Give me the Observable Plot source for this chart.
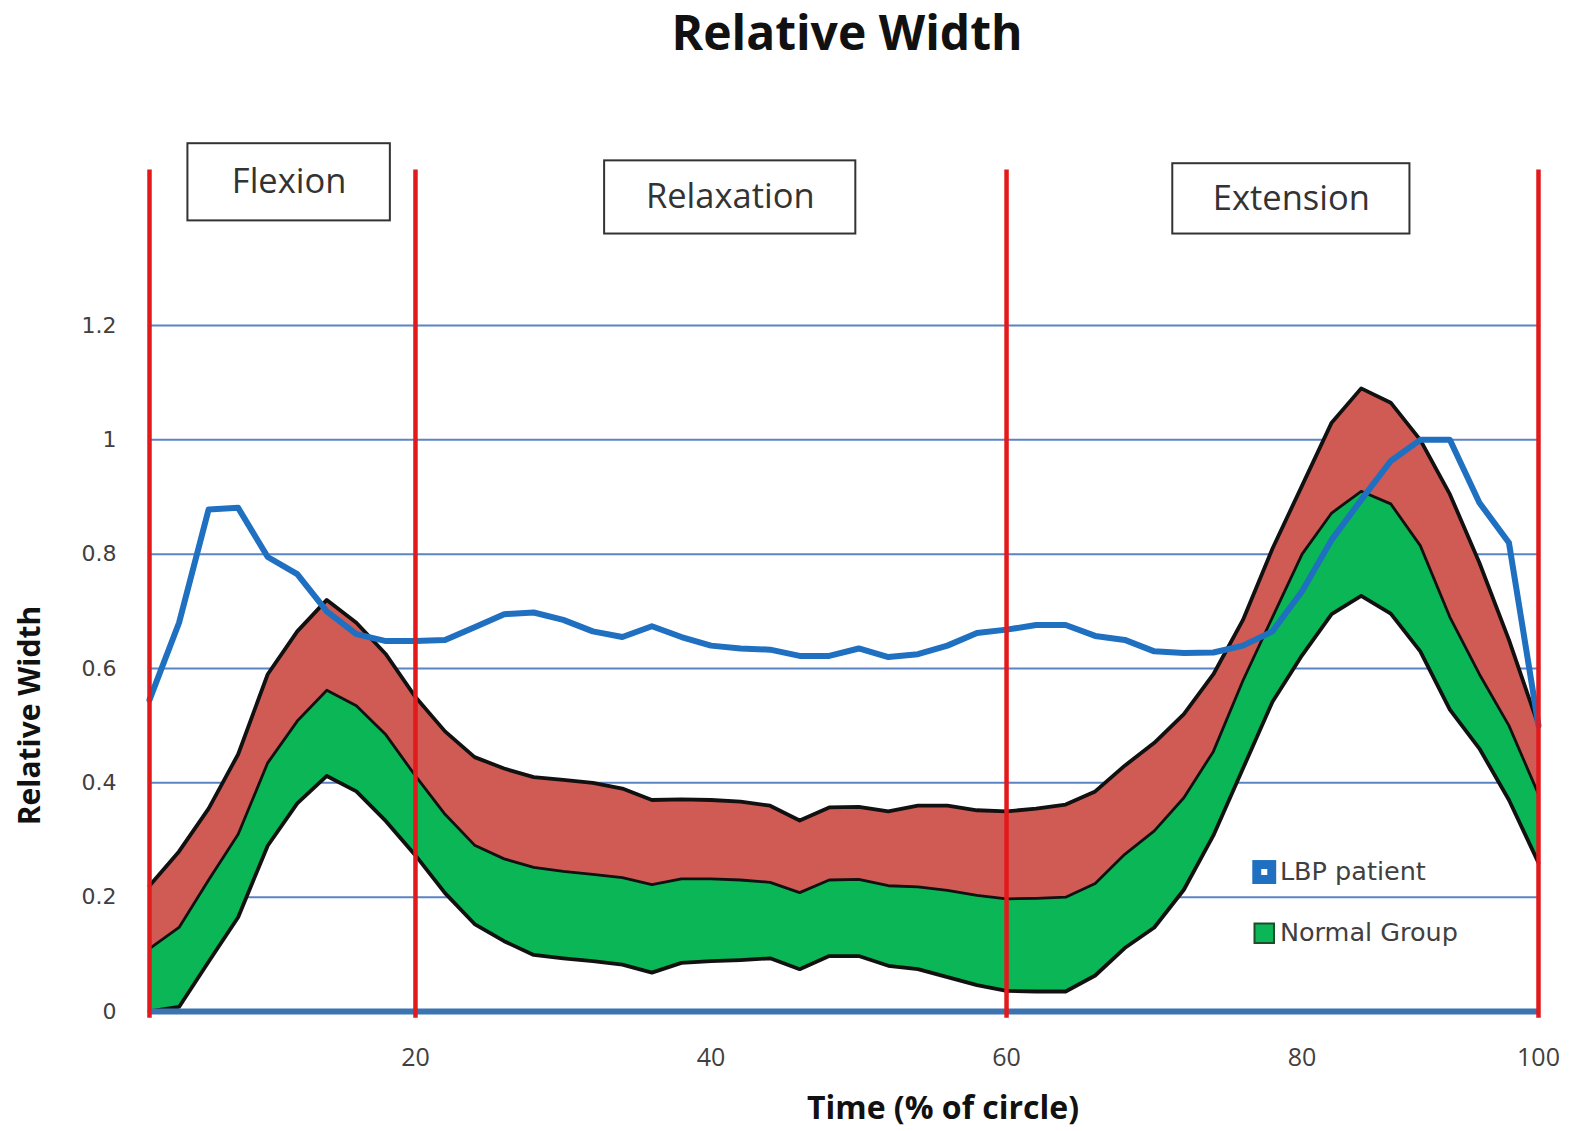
<!DOCTYPE html>
<html><head><meta charset="utf-8">
<script src="https://cdn.jsdelivr.net/npm/d3@7"></script>
<script src="https://cdn.jsdelivr.net/npm/@observablehq/plot@0.6"></script>
<style>
body{margin:0;background:#fff;}
#title{height:80px;width:1576px;box-sizing:border-box;padding-left:118px;padding-top:8px;text-align:center;font-family:"Open Sans";font-weight:bold;font-size:48px;line-height:1;color:#111;}
</style></head><body>
<div id="title">Relative Width</div>
<div id="chart"></div>
<script>
const time = [2,4,6,8,10,12,14,16,18,20,22,24,26,28,30,32,34,36,38,40,42,44,46,48,50,52,54,56,58,60,62,64,66,68,70,72,74,76,78,80,82,84,86,88,90,92,94,96];
const lowerBound = [0.0,0.008,0.087,0.165,0.29,0.364,0.412,0.385,0.333,0.273,0.207,0.153,0.123,0.099,0.093,0.088,0.082,0.068,0.085,0.088,0.09,0.093,0.074,0.097,0.097,0.08,0.074,0.06,0.046,0.036,0.035,0.035,0.063,0.111,0.147,0.213,0.308,0.425,0.542,0.623,0.695,0.727,0.696,0.63,0.528,0.46,0.37,0.26];
const meanNormal = [0.11,0.147,0.23,0.31,0.435,0.508,0.562,0.535,0.484,0.412,0.345,0.291,0.267,0.252,0.245,0.24,0.234,0.222,0.232,0.232,0.23,0.226,0.208,0.23,0.231,0.22,0.218,0.212,0.203,0.197,0.198,0.2,0.224,0.275,0.316,0.374,0.455,0.579,0.69,0.8,0.872,0.91,0.888,0.815,0.69,0.59,0.5,0.38];
const upperBound = [0.22,0.28,0.355,0.45,0.59,0.665,0.72,0.68,0.625,0.55,0.49,0.445,0.425,0.41,0.405,0.4,0.39,0.37,0.371,0.37,0.367,0.36,0.334,0.357,0.358,0.35,0.36,0.36,0.352,0.35,0.355,0.362,0.385,0.43,0.47,0.52,0.59,0.685,0.81,0.92,1.03,1.09,1.065,1.0,0.905,0.785,0.65,0.5];
const lbpPatient = [0.545,0.68,0.878,0.881,0.795,0.765,0.7,0.66,0.648,0.648,0.65,0.672,0.695,0.698,0.685,0.665,0.655,0.674,0.655,0.64,0.635,0.633,0.622,0.622,0.635,0.62,0.625,0.64,0.662,0.668,0.676,0.676,0.657,0.65,0.63,0.627,0.628,0.64,0.665,0.735,0.825,0.895,0.963,1.0,1.0,0.89,0.82,0.5];
const phaseBoundaries = [2, 20, 60, 96];
const phaseNames = ["Flexion", "Relaxation", "Extension"];
const yTicks = [0, 0.2, 0.4, 0.6, 0.8, 1, 1.2];
const xTicks = [20, 40, 60, 80, 96];
const xTickLabels = ["20", "40", "60", "80", "100"];
const legendLabels = ["LBP patient", "Normal Group"];

const rows = time.map((t, i) => ({t, lo: lowerBound[i], mid: meanNormal[i], hi: upperBound[i], lbp: lbpPatient[i]}));

// annotation box layout (data units)
const boxLayout = [
  {x1: 4.6, x2: 18.3, y1: 1.383, y2: 1.518},
  {x1: 32.8, x2: 49.8, y1: 1.36, y2: 1.488},
  {x1: 71.25, x2: 87.3, y1: 1.36, y2: 1.483}
];
const boxes = boxLayout.map((b, i) => ({...b, name: phaseNames[i]}));
const legendY = [0.244, 0.137];
const legendItems = legendLabels.map((l, i) => ({label: l, y: legendY[i]}));

const chart = Plot.plot({
  width: 1576, height: 1051,
  marginLeft: 149, marginRight: 38, marginTop: 245, marginBottom: 120,
  x: {domain: [2, 96]},
  y: {domain: [0, 1.2]},
  style: {background: "#fff", fontFamily: "Open Sans", color: "#404040"},
  marks: [
    Plot.ruleY(yTicks.filter(d => d > 0), {stroke: "#5b84c4", strokeWidth: 2}),
    Plot.areaY(rows, {x: "t", y1: "lo", y2: "mid", fill: "#0bb656"}),
    Plot.areaY(rows, {x: "t", y1: "mid", y2: "hi", fill: "#d05b55"}),
    Plot.line(rows, {x: "t", y: "lo", stroke: "#111", strokeWidth: 3.8}),
    Plot.line(rows, {x: "t", y: "mid", stroke: "#111", strokeWidth: 2.8}),
    Plot.line(rows, {x: "t", y: "hi", stroke: "#111", strokeWidth: 3.8}),
    Plot.ruleY([0], {stroke: "#3c74b2", strokeWidth: 6}),
    Plot.line(rows, {x: "t", y: "lbp", stroke: "#1f70c1", strokeWidth: 6, strokeLinejoin: "round"}),
    Plot.ruleX(phaseBoundaries, {y1: -0.012, y2: 1.472, stroke: "#e31a1c", strokeWidth: 4.5}),
    Plot.rect(boxes, {x1: "x1", x2: "x2", y1: "y1", y2: "y2", fill: "#fff", stroke: "#333", strokeWidth: 2}),
    Plot.text(boxes, {x: d => (d.x1 + d.x2) / 2, y: d => (d.y1 + d.y2) / 2, text: "name", fontSize: 34.5, fontFamily: "Open Sans", fill: "#333"}),
    Plot.axisY(yTicks, {tickSize: 0, tickPadding: 33, tickFormat: d => String(d), fontSize: 22, fontFamily: "DejaVu Sans", color: "#404040", label: null}),
    Plot.axisX(xTicks, {tickSize: 0, tickPadding: 37, tickFormat: d => xTickLabels[xTicks.indexOf(d)], fontSize: 25, fontFamily: "Open Sans", color: "#404040", label: null}),
    Plot.text(["Time (% of circle)"], {frameAnchor: "bottom", lineAnchor: "middle", dx: 99, dy: 97, fontSize: 32, fontWeight: "bold", fontFamily: "Open Sans", fill: "#111"}),
    Plot.text(["Relative Width"], {frameAnchor: "left", textAnchor: "middle", lineAnchor: "middle", rotate: -90, dx: -119, dy: 47, fontSize: 30, fontWeight: "bold", fontFamily: "Open Sans", fill: "#111"}),
    Plot.dot(legendItems.slice(0, 1), {x: () => 77.44, y: "y", symbol: "square", r: 13.5, fill: "#1f70c1"}),
    Plot.dot(legendItems.slice(0, 1), {x: () => 77.44, y: "y", symbol: "square", r: 3.4, fill: "#fff"}),
    Plot.dot(legendItems.slice(1), {x: () => 77.44, y: "y", symbol: "square", r: 11, fill: "#0bb656", stroke: "#1e4d2b", strokeWidth: 2}),
    Plot.text(legendItems, {x: () => 78.5, y: "y", text: "label", textAnchor: "start", fontSize: 25.5, fontFamily: "DejaVu Sans", fill: "#404040"})
  ]
});
document.getElementById("chart").appendChild(chart);
</script>
</body></html>
